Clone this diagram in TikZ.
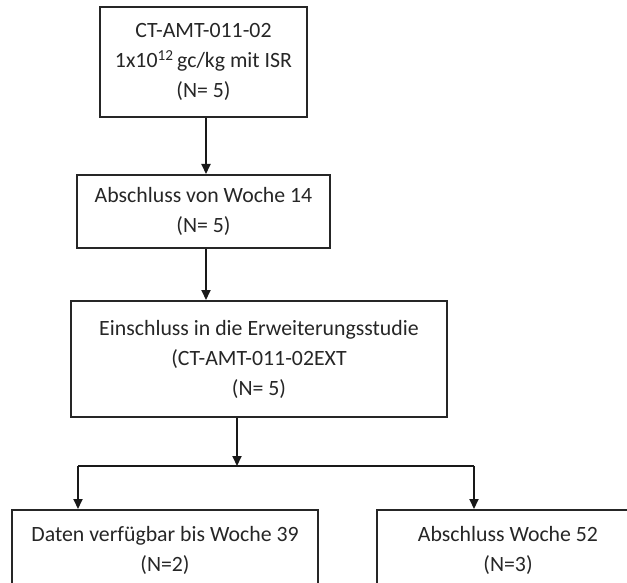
\documentclass[tikz,border=0pt]{standalone}
\usepackage{fontspec}
\setmainfont{Carlito}
\usetikzlibrary{arrows.meta,calc}
\begin{document}
\begin{tikzpicture}[x=1pt,y=-1pt,
  box/.style={draw=black!85,line width=2pt,align=center,inner sep=0pt,
    font=\fontsize{21.8}{30}\selectfont,text=black!85},
  conn/.style={draw=black!90,line width=2pt},
  arr/.style={conn,-{Triangle[width=9pt,length=10pt]}}]
\useasboundingbox (0,0) rectangle (627,583);
\clip (0,0) rectangle (627,583);
\node[box,minimum width=207pt,minimum height=110pt] (b1) at (203.5,62)
  {CT-AMT-011-02\\1x10\textsuperscript{12}\,gc/kg mit ISR\\(N= 5)};
\node[box,minimum width=253pt,minimum height=73pt] (b2) at (203.5,211.5)
  {Abschluss von Woche 14\\(N= 5)};
\node[box,minimum width=376pt,minimum height=116pt] (b3) at (259,359)
  {Einschluss in die Erweiterungsstudie\\(CT-AMT-011-02EXT\\(N= 5)};
\node[box,minimum width=306pt,minimum height=80pt] (b4) at (165,550)
  {Daten verfügbar bis Woche 39\\(N=2)};
\node[box,minimum width=262pt,minimum height=80pt] (b5) at (508,550)
  {Abschluss Woche 52\\(N=3)};
\coordinate (s) at (237,466);
\coordinate (l) at (78,466);
\coordinate (r) at (474,466);
\draw[arr] ([xshift=2.5pt]b1.south) -- ([xshift=2.5pt]b1.south |- b2.north);
\draw[arr] ([xshift=2.5pt]b2.south) -- ([xshift=2.5pt]b2.south |- b3.north);
\draw[arr] (b3.south -| s) -- (s);
\draw[conn] (l) -- (r);
\draw[arr] (l) -- (l |- b4.north);
\draw[arr] (r) -- (r |- b5.north);
\end{tikzpicture}
\end{document}
